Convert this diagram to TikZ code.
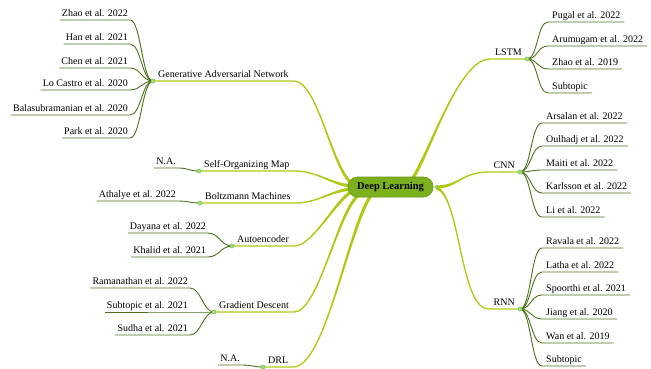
\documentclass[tikz,border=0pt]{standalone}
\usepackage{fontspec}
\setmainfont{Liberation Serif}
\usetikzlibrary{calc,backgrounds}
\definecolor{trunkc}{RGB}{178,200,22}
\definecolor{leafc}{RGB}{78,112,28}
\definecolor{dotc}{RGB}{165,222,120}
\definecolor{dotb}{RGB}{110,190,70}
\definecolor{rootc}{RGB}{124,176,28}
\definecolor{rootb}{RGB}{100,150,20}
\newcommand\mmtrunk[7]{%
  \fill[trunkc] (#2) .. controls (#3) and ($(#4)+(#6,#7)$) .. ($(#5)+(#6,#7)$)
     -- ($(#5)-(#6,#7)$) .. controls ($(#4)-(#6,#7)$) and (#3) .. (#2) -- cycle;
  \draw[trunk] (#1) -- (#2) .. controls (#3) and (#4) .. (#5);}
\newcommand\mmlleaf[4]{%
  \node[lleaf] (#1) at (#2) {#3};
  \draw[leafline] (#1.south west) -- (#1.south east) .. controls +(11,0) and +(-11,0) .. (#4);}
\newcommand\mmrleaf[4]{%
  \node[rleaf] (#1) at (#2) {#3};
  \draw[leafline] (#4) .. controls +(11,0) and +(-11,0) .. (#1.south west) -- (#1.south east);}
\begin{document}
\begin{tikzpicture}[x=1pt,y=-1pt,
  txt/.style={font=\fontsize{10}{12}\selectfont, text height=6.8pt, text depth=1.6pt, inner ysep=1.8pt, inner xsep=2pt},
  lleaf/.style={txt, anchor=south east},
  rleaf/.style={txt, anchor=south west, inner xsep=4pt},
  lbr/.style={txt, anchor=south west, inner xsep=5pt},
  rbr/.style={txt, anchor=south east, inner xsep=5pt},
  jdot/.style={circle, fill=dotc, draw=dotb, line width=0.4pt, inner sep=0pt, minimum size=4.2pt},
  leafline/.style={draw=leafc, line width=0.9pt},
  trunk/.style={draw=trunkc, line width=1.3pt},
  root/.style={rounded corners=9.5pt, fill=rootc, draw=rootb, line width=0.6pt,
    minimum width=85pt, minimum height=20pt, inner sep=0pt,
    font=\bfseries\fontsize{10.5}{12}\selectfont}]
\useasboundingbox (0,0) rectangle (651,369);

% root
\node[root] (dl) at (390.5,187) {Deep Learning};
\coordinate (eGAN) at ($(dl.center)+(-38,-3)$);
\coordinate (eSOM) at ($(dl.center)+(-38,-1)$);
\coordinate (eBOL) at ($(dl.center)+(-38,2)$);
\coordinate (eAUT) at ($(dl.center)+(-40,5)$);
\coordinate (eGRD) at ($(dl.center)+(-33,9)$);
\coordinate (eDRL) at ($(dl.center)+(-20,9)$);
\coordinate (eLST) at ($(dl.center)+(21,-7)$);
\coordinate (eCNN) at ($(dl.east)+(3,0)$);
\coordinate (eRNN) at ($(dl.east)+(3,1)$);

% branches
\node[lbr] (gan) at (153,81) {Generative Adversarial Network};
\node[lbr] (som) at (199,171) {Self-Organizing Map};
\node[lbr] (bol) at (200,203) {Boltzmann Machines};
\node[lbr] (aut) at (232,246) {Autoencoder};
\node[lbr] (grd) at (214,312) {Gradient Descent};
\node[lbr] (drl) at (263,367) {DRL};
\node[rbr] (lstm) at (527,59) {LSTM};
\node[rbr] (cnn) at (520,172) {CNN};
\node[rbr] (rnn) at (520,309) {RNN};

\begin{pgfonlayer}{background}
\mmtrunk{gan.south west}{gan.south east}{318,81}{332,170}{eGAN}{-0.9}{1.3}
\mmtrunk{som.south west}{som.south east}{318,171}{332,185}{eSOM}{0}{1.6}
\mmtrunk{bol.south west}{bol.south east}{318,203}{332,190}{eBOL}{0}{1.6}
\mmtrunk{aut.south west}{aut.south east}{312,246}{332,206}{eAUT}{0.9}{1.3}
\mmtrunk{grd.south west}{grd.south east}{318,312}{337,215}{eGRD}{1.0}{1.2}
\mmtrunk{drl.south west}{drl.south east}{325,367}{348,230}{eDRL}{1.3}{1.0}
\mmtrunk{lstm.south east}{lstm.south west}{458,59}{428,158}{eLST}{1.3}{1.0}
\mmtrunk{cnn.south east}{cnn.south west}{462,172}{458,187}{eCNN}{0}{1.6}
\mmtrunk{rnn.south east}{rnn.south west}{460,309}{460,194}{eRNN}{0}{1.6}
\end{pgfonlayer}

% GAN leaves
\mmlleaf{g1}{130,20}{Zhao et al. 2022}{gan.south west}
\mmlleaf{g2}{130,44}{Han et al. 2021}{gan.south west}
\mmlleaf{g3}{130,68}{Chen et al. 2021}{gan.south west}
\mmlleaf{g4}{130,90}{Lo Castro et al. 2020}{gan.south west}
\mmlleaf{g5}{130,115}{Balasubramanian et al. 2020}{gan.south west}
\mmlleaf{g6}{130,138}{Park et al. 2020}{gan.south west}
% SOM, Boltzmann
\mmlleaf{s1}{178,168}{N.A.}{som.south west}
\mmlleaf{b1}{178,201}{Athalye et al. 2022}{bol.south west}
% Autoencoder
\mmlleaf{a1}{208,233}{Dayana et al. 2022}{aut.south west}
\mmlleaf{a2}{208,257}{Khalid et al. 2021}{aut.south west}
% Gradient descent
\mmlleaf{d1}{190,288}{Ramanathan et al. 2022}{grd.south west}
\mmlleaf{d2}{190,312}{Subtopic et al. 2021}{grd.south west}
\mmlleaf{d3}{190,335}{Sudha et al. 2021}{grd.south west}
% DRL
\mmlleaf{r1}{242,365}{N.A.}{drl.south west}
% LSTM
\mmrleaf{l1}{548,22}{Pugal et al. 2022}{lstm.south east}
\mmrleaf{l2}{548,46}{Arumugam et al. 2022}{lstm.south east}
\mmrleaf{l3}{548,69}{Zhao et al. 2019}{lstm.south east}
\mmrleaf{l4}{548,93}{Subtopic}{lstm.south east}
% CNN
\mmrleaf{c1}{542,123}{Arsalan et al. 2022}{cnn.south east}
\mmrleaf{c2}{542,146}{Oulhadj et al. 2022}{cnn.south east}
\mmrleaf{c3}{542,170}{Maiti et al. 2022}{cnn.south east}
\mmrleaf{c4}{542,193}{Karlsson et al. 2022}{cnn.south east}
\mmrleaf{c5}{542,217}{Li et al. 2022}{cnn.south east}
% RNN
\mmrleaf{n1}{542,248}{Ravala et al. 2022}{rnn.south east}
\mmrleaf{n2}{542,272}{Latha et al. 2022}{rnn.south east}
\mmrleaf{n3}{542,295}{Spoorthi et al. 2021}{rnn.south east}
\mmrleaf{n4}{542,319}{Jiang et al. 2020}{rnn.south east}
\mmrleaf{n5}{542,343}{Wan et al. 2019}{rnn.south east}
\mmrleaf{n6}{542,366}{Subtopic}{rnn.south east}

% junction dots
\node[jdot] (jgan) at (gan.south west) {};
\node[jdot] (jsom) at (som.south west) {};
\node[jdot] (jbol) at (bol.south west) {};
\node[jdot] (jaut) at (aut.south west) {};
\node[jdot] (jgrd) at (grd.south west) {};
\node[jdot] (jdrl) at (drl.south west) {};
\node[jdot] (jlstm) at (lstm.south east) {};
\node[jdot] (jcnn) at (cnn.south east) {};
\node[jdot] (jrnn) at (rnn.south east) {};
\node[jdot, minimum size=3.2pt] (jdl) at (eCNN) {};
\end{tikzpicture}
\end{document}
